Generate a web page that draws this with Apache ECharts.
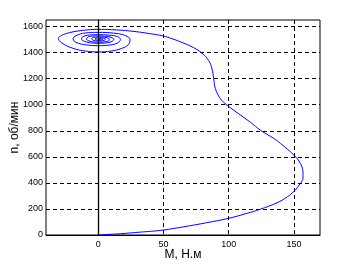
<!DOCTYPE html>
<html><head><meta charset="utf-8">
<script src="https://cdn.jsdelivr.net/npm/echarts@6/dist/echarts.min.js"></script>
<style>html,body{margin:0;padding:0;background:#fff}#c{width:354px;height:265px}</style>
</head><body><div id="c"></div>
<script>
// Torque M (N·m) and speed n (rpm) along the start-up trajectory
const torqueM = [0,5,17,32,40,50,65,83,100,114,124,137,145,150,155,157,157,155,150,139.8,134.6,124.4,116.7,98.8,93.6,89.8,88.5,87.2,84.6,79.5,73.1,65.4,56.5,50,39.8,
  25,10,0,-12,-22,-28,-30.5,-28,-20,-10,0,10,18,23,24.4,
  21,12,0,-10,-17,-19.2,-17,-9,0,9,15,17,
  15,8,0,-8,-12,-12.8,-11,-6,0,7,11,12,
  10,5,0,-6,-8.5,-9,-7,-3,1,6,8.5,8,
  5,1,-3,-5,-4.5,-2,2,5,5.5,4,1,-1.5,-2.5,-1,2,3.5,3,1,0,1,2];
const speedN = [0,3,10,22,28,38,62,94,128,166,197,247,293,335,396,440,473,549,613,702,741,804,865,996,1047,1124,1200,1277,1340,1396,1438,1473,1507,1527,1545,
  1565,1576,1578,1570,1553,1532,1508,1475,1435,1412,1405,1412,1432,1460,1500,
  1530,1549,1555,1550,1530,1505,1478,1459,1453,1458,1475,1500,
  1522,1534,1537,1533,1520,1505,1488,1475,1471,1475,1488,1502,
  1517,1526,1528,1525,1514,1503,1490,1481,1479,1484,1495,1508,
  1517,1520,1517,1508,1498,1490,1489,1495,1503,1510,1513,1510,1504,1497,1495,1500,1505,1507,1504,1500,1501];
const xTicks = [0,50,100,150];
const yTicks = [0,200,400,600,800,1000,1200,1400,1600];
const xRange = [-40,170];
const yRange = [0,1650];
const zeroLineM = 0;

const curve = torqueM.map((m,i)=>[m,speedN[i]]);
const chart = echarts.init(document.getElementById('c'),null,{renderer:'canvas'});
const font = 'Arial, "Liberation Sans", sans-serif';
chart.setOption({
  animation:false,
  backgroundColor:'#fff',
  grid:{left:46,top:20,right:34,bottom:30,outerBoundsMode:'none',containLabel:false,show:true,borderColor:'#000',borderWidth:1,backgroundColor:'transparent'},
  xAxis:{type:'value',min:xRange[0],max:xRange[1],
    name:'M, Н.м',nameLocation:'middle',nameGap:14,nameMoveOverlap:false,
    nameTextStyle:{color:'#000',fontSize:12,fontFamily:font},
    axisLine:{show:true,onZero:false,lineStyle:{color:'#000',width:1}},
    axisTick:{show:false,customValues:xTicks},
    axisLabel:{customValues:xTicks,formatter:v=>String(v),color:'#000',fontSize:9,fontFamily:font,margin:5},
    splitLine:{show:true,lineStyle:{color:'#000',type:[4,3],width:1}}},
  yAxis:{type:'value',min:yRange[0],max:yRange[1],
    name:'n, об/мин',nameLocation:'middle',nameGap:25,nameMoveOverlap:false,
    nameTextStyle:{color:'#000',fontSize:12,fontFamily:font},
    axisLine:{show:true,lineStyle:{color:'#000',width:1}},
    axisTick:{show:false,customValues:yTicks},
    axisLabel:{customValues:yTicks,formatter:v=>String(v),color:'#000',fontSize:9,fontFamily:font,margin:3},
    splitLine:{show:true,lineStyle:{color:'#000',type:[4,3],width:1}}},
  series:[{type:'line',data:curve,showSymbol:false,smooth:0.4,
    lineStyle:{color:'#0000ff',width:1},
    markLine:{silent:true,symbol:'none',label:{show:false},
      lineStyle:{color:'#000',type:'solid',width:1.3},
      data:[{xAxis:zeroLineM}]},
    z:3}]
});
</script></body></html>
